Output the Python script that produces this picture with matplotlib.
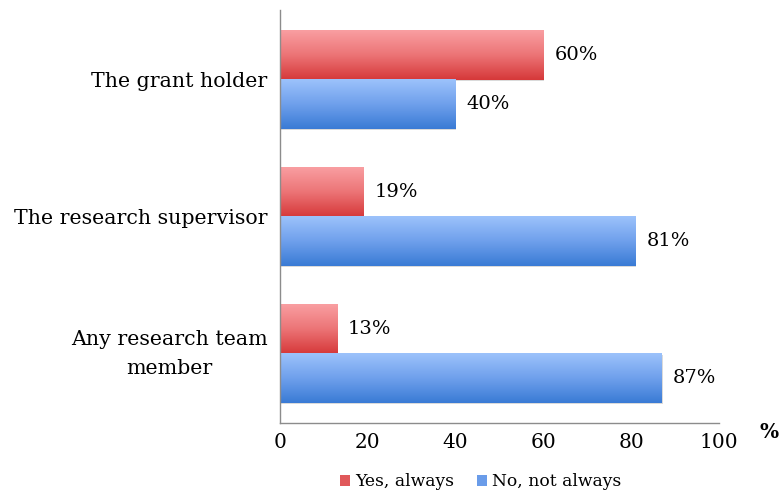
import numpy as np
import matplotlib.pyplot as plt
import matplotlib.transforms as mtransforms
from matplotlib.colors import LinearSegmentedColormap
from matplotlib.patches import Patch

# Survey answers per role (percent)
categories = ['Any research team\nmember', 'The research supervisor', 'The grant holder']
yes_always = [13, 19, 60]
no_not_always = [87, 81, 40]
x_ticks = [0, 20, 40, 60, 80, 100]

plt.rcParams['font.family'] = ['DejaVu Serif']

red_cmap = LinearSegmentedColormap.from_list('red_grad', ['#f99ea1', '#ec7476', '#d6393a'])
blue_cmap = LinearSegmentedColormap.from_list('blue_grad', ['#9cc2fb', '#6fa0ec', '#3a7bd5'])
grad = np.linspace(0, 1, 64).reshape(-1, 1)

fig = plt.figure(figsize=(7.83, 4.93), dpi=100)
ax = fig.add_axes([0.3576, 0.142, 0.5607, 0.838])

h = 0.36
y = np.arange(len(categories))


def gradient_bar(ax, y0, width, cmap):
    # thin shadow under the bar, then the gradient fill
    ax.barh(y0 - 0.01, width + 0.2, height=h, left=0, align='edge',
            color='#dadada', zorder=1, linewidth=0)
    ax.imshow(grad, cmap=cmap, aspect='auto', origin='upper',
              extent=[0, width, y0, y0 + h], zorder=2, interpolation='bilinear')


for i in range(len(categories)):
    gradient_bar(ax, y[i], yes_always[i], red_cmap)
    gradient_bar(ax, y[i] - h, no_not_always[i], blue_cmap)
    ax.text(yes_always[i] + 2.5, y[i] + h / 2, f'{yes_always[i]}%',
            va='center', ha='left', fontsize=14)
    ax.text(no_not_always[i] + 2.5, y[i] - h / 2, f'{no_not_always[i]}%',
            va='center', ha='left', fontsize=14)

ax.set_xlim(0, 100)
ax.set_ylim(-0.505, 2.51)
ax.set_xticks(x_ticks)
ax.set_xticklabels([str(t) for t in x_ticks], fontsize=14.5)
ax.set_yticks(y)
ax.set_yticklabels(categories, fontsize=14.8, multialignment='center', linespacing=1.7)
ax.tick_params(axis='both', length=0)
ax.tick_params(axis='x', pad=7)
ax.tick_params(axis='y', pad=9)

# nudge the two-line label up a little
lbl = ax.get_yticklabels()[0]
lbl.set_transform(lbl.get_transform() + mtransforms.ScaledTranslation(0, 5 / 72, fig.dpi_scale_trans))

for side in ['top', 'right']:
    ax.spines[side].set_visible(False)
for side in ['left', 'bottom']:
    ax.spines[side].set_color('#8c8c8c')
    ax.spines[side].set_linewidth(1.0)

fig.text(0.995, 0.124, '%', fontsize=14.5, fontweight='bold', ha='right', va='center')

handles = [Patch(facecolor='#e0585a', label='Yes, always'),
           Patch(facecolor='#6a9ce9', label='No, not always')]
fig.legend(handles=handles, loc='center', bbox_to_anchor=(0.614, 0.023), ncol=2,
           frameon=False, fontsize=12.3, handlelength=0.6, handleheight=0.6,
           handletextpad=0.3, columnspacing=1.3)

fig.savefig('out.png', dpi=100)
